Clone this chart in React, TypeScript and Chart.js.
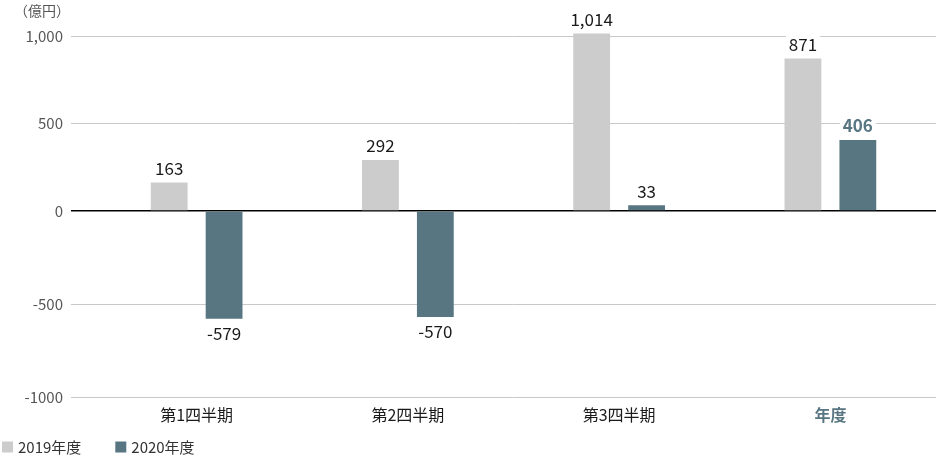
import { useEffect, useRef } from 'react'
import { Chart, registerables, LinearScale } from 'chart.js'

// Values
const categories = ['第1四半期', '第2四半期', '第3四半期', '年度']
const fy2019 = [163, 292, 1014, 871]
const fy2020 = [-579, -570, 33, 406]
const seriesNames = ['2019年度', '2020年度']
const tickValues = [-1000, -500, 0, 500, 1000]
const tickLabels = ['-1000', '-500', '0', '500', '1,000']

const GRAY = '#cccccc'
const SLATE = '#587682'
const FONT = '"Noto Sans CJK JP", "Noto Sans", sans-serif'

// the original axis is a little taller below zero than above it
const ZERO_FRAC = 175 / 361

class SplitScale extends LinearScale {
  static id = 'split'
  static defaults = LinearScale.defaults

  getPixelForValue(value: number) {
    const zero = this.top + (this.bottom - this.top) * ZERO_FRAC
    if (value >= 0) return zero - (value / this.max) * (zero - this.top)
    return zero + (value / this.min) * (this.bottom - zero)
  }

  getValueForPixel(pixel: number) {
    const zero = this.top + (this.bottom - this.top) * ZERO_FRAC
    if (pixel <= zero) return ((zero - pixel) / (zero - this.top)) * this.max
    return ((pixel - zero) / (this.bottom - zero)) * this.min
  }
}

Chart.register(...registerables, SplitScale as any)

const fmt = (v: number) => v.toLocaleString('en-US')

// value labels above / below every bar, with a white box behind them
const valueLabels = {
  id: 'valueLabels',
  afterDatasetsDraw(chart: Chart) {
    const ctx = chart.ctx
    chart.data.datasets.forEach((ds, di) => {
      const meta = chart.getDatasetMeta(di)
      meta.data.forEach((bar: any, i) => {
        const v = ds.data[i] as number
        const strong = di === 1 && i === categories.length - 1
        ctx.save()
        ctx.font = `${strong ? 'bold ' : ''}17px ${FONT}`
        ctx.textAlign = 'center'
        ctx.textBaseline = 'middle'
        const y = v >= 0 ? bar.y - 14 : bar.y + 15
        const w = ctx.measureText(fmt(v)).width
        ctx.fillStyle = '#fff'
        ctx.fillRect(bar.x - w / 2 - 3, y - 9, w + 6, 18)
        ctx.fillStyle = strong ? SLATE : '#1a1a1a'
        ctx.fillText(fmt(v), bar.x, y)
        ctx.restore()
      })
    })
  },
}

// small legend flush left along the bottom edge, built from the datasets
const bottomLegend = {
  id: 'bottomLegend',
  afterDraw(chart: Chart) {
    const ctx = chart.ctx
    const cy = chart.height - 9
    let x = 2
    ctx.save()
    ctx.font = `15px ${FONT}`
    ctx.textBaseline = 'middle'
    ctx.textAlign = 'left'
    chart.data.datasets.forEach((ds) => {
      ctx.fillStyle = ds.backgroundColor as string
      ctx.fillRect(x, cy - 5.5, 11, 11)
      ctx.fillStyle = '#333'
      ctx.fillText(ds.label as string, x + 16, cy)
      x += 16 + ctx.measureText(ds.label as string).width + 34
    })
    ctx.restore()
  },
}

export default function App() {
  const canvasRef = useRef<HTMLCanvasElement | null>(null)
  const chartRef = useRef<Chart | null>(null)

  useEffect(() => {
    if (!canvasRef.current) return
    if (chartRef.current) chartRef.current.destroy()

    chartRef.current = new Chart(canvasRef.current, {
      type: 'bar',
      data: {
        labels: categories,
        datasets: [
          {
            label: seriesNames[0],
            data: fy2019,
            backgroundColor: GRAY,
            categoryPercentage: 0.52,
            barPercentage: 0.67,
            clip: false as any,
          },
          {
            label: seriesNames[1],
            data: fy2020,
            backgroundColor: SLATE,
            categoryPercentage: 0.52,
            barPercentage: 0.67,
            clip: false as any,
          },
        ],
      },
      options: {
        animation: false,
        responsive: true,
        maintainAspectRatio: false,
        layout: { padding: { top: 36, right: 0, left: 0, bottom: 0 } },
        font: { family: FONT },
        scales: {
          x: {
            grid: { display: false, drawTicks: false },
            border: { display: false },
            ticks: {
              padding: 8,
              color: (c: any) => (c.index === 3 ? SLATE : '#1a1a1a'),
              font: (c: any) => ({ family: FONT, size: 16, weight: c.index === 3 ? 'bold' : 'normal' }),
            },
            afterFit: (s: any) => {
              s.height = 59
            },
          },
          y: {
            type: 'split' as any,
            min: -1000,
            max: 1000,
            afterBuildTicks: (s: any) => {
              s.ticks = tickValues.map((value) => ({ value }))
            },
            afterFit: (s: any) => {
              s.width = 91
            },
            border: { display: false },
            grid: {
              color: (c: any) => (c.tick && c.tick.value === 0 ? '#000' : '#c8c8c8'),
              lineWidth: (c: any) => (c.tick && c.tick.value === 0 ? 1.5 : 1),
              tickLength: 20,
            },
            ticks: {
              padding: 8,
              color: '#555',
              font: { family: FONT, size: 15 },
              callback: (v: any) => tickLabels[tickValues.indexOf(Number(v))] ?? '',
            },
          },
        },
        plugins: {
          legend: { display: false },
          tooltip: { enabled: false },
        },
      },
      plugins: [valueLabels, bottomLegend],
    })

    return () => {
      if (chartRef.current) {
        chartRef.current.destroy()
        chartRef.current = null
      }
    }
  }, [])

  return (
    <div style={{ position: 'absolute', left: 0, top: 0, width: 936, height: 456, background: '#fff' }}>
      <div
        style={{
          position: 'absolute',
          left: 14,
          top: 0,
          fontFamily: FONT,
          fontSize: 14,
          color: '#555',
          lineHeight: '20px',
        }}
      >
        （億円）
      </div>
      <canvas ref={canvasRef}></canvas>
    </div>
  )
}
